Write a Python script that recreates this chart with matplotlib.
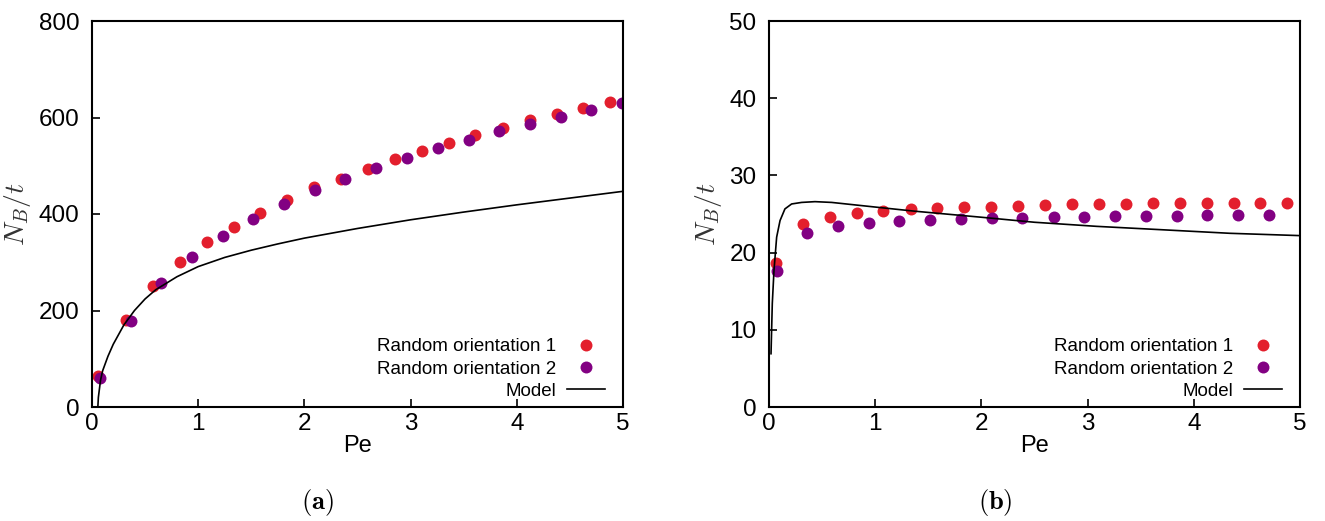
import matplotlib.pyplot as plt

plt.rcParams['font.family'] = ['Liberation Sans', 'DejaVu Sans']
plt.rcParams['mathtext.fontset'] = 'cm'

# (a) datos
pe_rojo_a = [0.06, 0.317, 0.57, 0.83, 1.08, 1.335, 1.585, 1.84, 2.09, 2.345,
             2.595, 2.85, 3.105, 3.36, 3.61, 3.87, 4.12, 4.375, 4.62, 4.88]
nb_rojo_a = [65, 181, 251, 300, 341, 373, 403, 430, 455, 473,
             494, 513, 531, 547, 564, 579, 594, 608, 620, 632]
pe_morado_a = [0.075, 0.365, 0.65, 0.94, 1.236, 1.52, 1.81, 2.096, 2.385, 2.674,
               2.967, 3.256, 3.546, 3.835, 4.12, 4.414, 4.70, 4.99]
nb_morado_a = [60, 178, 256, 311, 354, 390, 421, 449, 473, 496,
               517, 537, 554, 571, 586, 601, 616, 630]
pe_modelo_a = [0.055, 0.06, 0.08, 0.1, 0.15, 0.2, 0.3, 0.4, 0.5, 0.6, 0.8, 1.0,
               1.25, 1.5, 1.75, 2.0, 2.5, 3.0, 3.5, 4.0, 4.5, 5.0]
nb_modelo_a = [0, 20, 55, 75, 105, 130, 170, 200, 224, 243, 270, 291,
               310, 325, 338, 350, 370, 388, 404, 419, 433, 447]

# (b)
pe_rojo_b = [0.066, 0.317, 0.574, 0.826, 1.077, 1.334, 1.585, 1.836, 2.09, 2.34,
             2.6, 2.856, 3.108, 3.36, 3.616, 3.868, 4.12, 4.376, 4.628, 4.88]
nb_rojo_b = [18.6, 23.7, 24.6, 25.1, 25.4, 25.6, 25.75, 25.9, 25.97, 26.1,
             26.18, 26.25, 26.3, 26.34, 26.38, 26.4, 26.42, 26.44, 26.45, 26.45]
pe_morado_b = [0.072, 0.36, 0.653, 0.945, 1.227, 1.516, 1.808, 2.097, 2.385, 2.68,
               2.968, 3.26, 3.548, 3.84, 4.128, 4.416, 4.708]
nb_morado_b = [17.6, 22.56, 23.4, 23.85, 24.06, 24.24, 24.37, 24.45, 24.54, 24.58,
               24.65, 24.7, 24.75, 24.78, 24.82, 24.85, 24.89]
pe_modelo_b = [0.019, 0.031, 0.047, 0.072, 0.104, 0.15, 0.213, 0.307, 0.433, 0.59,
               1.0, 1.375, 2.0, 2.5, 3.085, 3.715, 4.34, 5.0]
nb_modelo_b = [6.9, 13.4, 17.7, 22.0, 24.15, 25.66, 26.3, 26.5, 26.6, 26.5,
               25.9, 25.36, 24.58, 23.93, 23.4, 22.95, 22.5, 22.2]

rojo = '#e31f2d'
morado = '#820082'

fig = plt.figure(figsize=(13.25, 5.21), dpi=100)
ax_a = fig.add_axes([92/1325, 1-407/521, 531/1325, 386/521])
ax_b = fig.add_axes([769/1325, 1-407/521, 531/1325, 386/521])

paneles = [
    (ax_a, pe_rojo_a, nb_rojo_a, pe_morado_a, nb_morado_a, pe_modelo_a, nb_modelo_a, 800, 200, '(a)', 317),
    (ax_b, pe_rojo_b, nb_rojo_b, pe_morado_b, nb_morado_b, pe_modelo_b, nb_modelo_b, 50, 10, '(b)', 995),
]

for ax, xr, yr, xm, ym, xl, yl, ymax, paso, letra, xletra in paneles:
    ax.plot(xr, yr, 'o', color=rojo, ms=8.6, mew=0, label='Random orientation 1')
    ax.plot(xm, ym, 'o', color=morado, ms=8.6, mew=0, label='Random orientation 2')
    ax.plot(xl, yl, '-', color='black', lw=1.2, label='Model')
    ax.set_xlim(0, 5)
    ax.set_ylim(0, ymax)
    ax.set_xticks(range(0, 6))
    ax.set_yticks(range(0, ymax + 1, paso))
    ax.tick_params(direction='in', length=6, width=1.2, labelsize=17.5, top=False, right=False)
    ax.tick_params(axis='x', pad=4)
    ax.tick_params(axis='y', pad=9)
    for s in ax.spines.values():
        s.set_linewidth(1.5)
    ax.set_xlabel('Pe', fontsize=17, labelpad=0)
    ax.set_ylabel(r'$N_B/t$', fontsize=20, color='#333333', labelpad=4)
    ax.legend(loc='lower right', bbox_to_anchor=(0.966, 0.018), frameon=False,
              markerfirst=False, fontsize=13.5, handlelength=2.0, handletextpad=0.6,
              labelspacing=0.28, borderaxespad=0, borderpad=0, numpoints=1)
    fig.text(xletra/1325, 1-502/521, r'$\mathbf{' + letra + '}$', fontsize=19,
             ha='center', va='center')

plt.savefig('out.png', dpi=100)
